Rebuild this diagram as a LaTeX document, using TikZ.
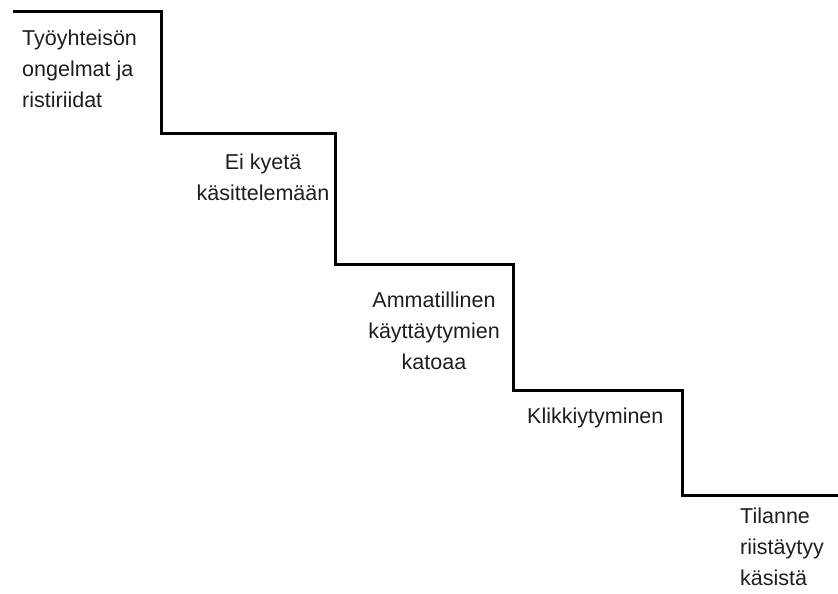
\documentclass[tikz,border=0pt]{standalone}
\usepackage{fontspec}
\setmainfont{Liberation Sans}
\definecolor{txt}{RGB}{30,30,30}
\tikzset{
  stairline/.style={line width=3pt, line join=miter, black},
  lbl/.style={inner sep=0pt, text=txt, font=\fontsize{21.5}{31}\selectfont},
}
\begin{document}
\begin{tikzpicture}[x=1pt,y=-1pt]
\useasboundingbox (0,0) rectangle (838,594);
\coordinate (s0) at (13,12);
\coordinate (s1) at (161,12);
\coordinate (s2) at (161,133);
\coordinate (s3) at (335,133);
\coordinate (s4) at (335,264);
\coordinate (s5) at (513,264);
\coordinate (s6) at (513,390);
\coordinate (s7) at (682,390);
\coordinate (s8) at (682,495);
\coordinate (s9) at (838,495);
\draw[stairline] (s0) -- (s1) -- (s2) -- (s3) -- (s4) -- (s5) -- (s6) -- (s7) -- (s8) -- (s9);
\node[lbl, anchor=base west] (t1) at (22,46) {\begin{tabular}[t]{@{}l@{}}Työyhteisön\\ongelmat ja\\ristiriidat\end{tabular}};
\node[lbl, anchor=base] (t2) at (263,169) {\begin{tabular}[t]{@{}c@{}}Ei kyetä\\käsittelemään\end{tabular}};
\node[lbl, anchor=base] (t3) at (434,307) {\begin{tabular}[t]{@{}c@{}}Ammatillinen\\käyttäytymien\\katoaa\end{tabular}};
\node[lbl, anchor=base west] (t4) at (527,423) {Klikkiytyminen};
\node[lbl, anchor=base west] (t5) at (740,523) {\begin{tabular}[t]{@{}l@{}}Tilanne\\riistäytyy\\käsistä\end{tabular}};
\end{tikzpicture}
\end{document}
